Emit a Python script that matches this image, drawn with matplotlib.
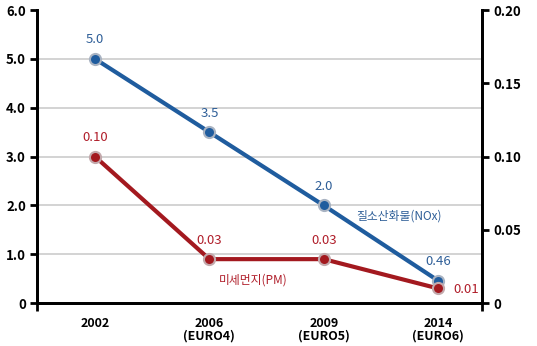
import matplotlib
matplotlib.use("Agg")
import matplotlib.pyplot as plt

plt.rcParams['font.family'] = ['Noto Sans CJK KR', 'DejaVu Sans']

# 데이터
years = ['2002', '2006\n(EURO4)', '2009\n(EURO5)', '2014\n(EURO6)']
nox = [5.0, 3.5, 2.0, 0.46]
pm = [0.10, 0.03, 0.03, 0.01]
nox_labels = ['5.0', '3.5', '2.0', '0.46']
pm_labels = ['0.10', '0.03', '0.03', '0.01']
left_ticks = [0, 1.0, 2.0, 3.0, 4.0, 5.0, 6.0]
left_tick_labels = ['0', '1.0', '2.0', '3.0', '4.0', '5.0', '6.0']
right_ticks = [0, 0.05, 0.10, 0.15, 0.20]
right_tick_labels = ['0', '0.05', '0.10', '0.15', '0.20']

blue = '#1f5c9e'
red = '#a3191f'
blue_txt = '#2f5f98'
red_txt = '#b01e2a'

fig = plt.figure(figsize=(5.37, 3.46), dpi=100)
ax = fig.add_axes([0.069, 0.124, 0.829, 0.847])
ax2 = ax.twinx()

x = list(range(len(years)))
xmin, xmax = -0.507, 3.386

# 격자선
for v in left_ticks[1:-1]:
    ax.axhline(v, color='#cccccc', lw=1.2, zorder=0)

ax.plot(x, nox, color=blue, lw=3, marker='o', ms=8, mfc=blue,
        mec='#a9b3c2', mew=1.5, zorder=3)
ax2.plot(x, pm, color=red, lw=3, marker='o', ms=8, mfc=red,
         mec='#c3a9ac', mew=1.5, zorder=3)

# 값 표시
for i, (v, t) in enumerate(zip(nox, nox_labels)):
    ax.annotate(t, (i, v), xytext=(0, 9), textcoords='offset points',
                ha='center', va='bottom', color=blue_txt, fontsize=9.5)
for i, (v, t) in enumerate(zip(pm, pm_labels)):
    if i == 3:
        ax2.annotate(t, (i, v), xytext=(11, -1), textcoords='offset points',
                     ha='left', va='center', color=red_txt, fontsize=9.5)
    else:
        ax2.annotate(t, (i, v), xytext=(0, 9), textcoords='offset points',
                     ha='center', va='bottom', color=red_txt, fontsize=9.5)

ax.text(2.66, 1.78, '질소산화물(NOx)', color=blue_txt, fontsize=8.5,
        ha='center', va='center')
ax.text(1.38, 0.48, '미세먼지(PM)', color=red_txt, fontsize=8.5,
        ha='center', va='center')

ax.set_xlim(xmin, xmax)
ax.set_ylim(0, 6)
ax2.set_ylim(0, 0.2)

ax.set_xticks(x)
ax.set_xticklabels(years, fontsize=9, fontweight='bold', linespacing=1.0)
ax.tick_params(axis='x', which='major', length=0, pad=10)
ax.set_xticks([xmin, xmax], minor=True)
ax.tick_params(axis='x', which='minor', length=6, width=2, direction='out')

ax.set_yticks(left_ticks)
ax.set_yticklabels(left_tick_labels, fontsize=9.5, fontweight='bold')
ax.tick_params(axis='y', length=5, width=2, direction='out', pad=3)
ax2.set_yticks(right_ticks)
ax2.set_yticklabels(right_tick_labels, fontsize=9.5, fontweight='bold')
ax2.tick_params(axis='y', length=5, width=2, direction='out', pad=3)

for a in (ax, ax2):
    a.spines['top'].set_visible(False)
    for s in ('left', 'right', 'bottom'):
        a.spines[s].set_linewidth(2)

fig.savefig('out.png', dpi=100)
